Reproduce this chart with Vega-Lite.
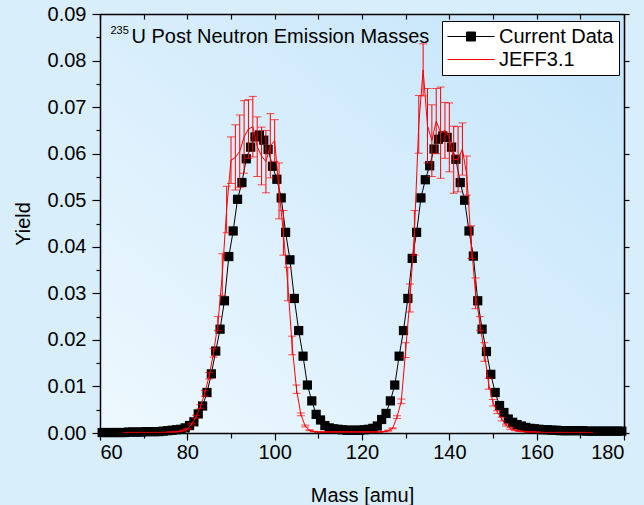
{
  "$schema": "https://vega.github.io/schema/vega-lite/v6.json",
  "width": 524,
  "height": 419,
  "autosize": {"type": "none"},
  "padding": {"left": 100, "top": 14, "right": 20, "bottom": 72},
  "background": "#d9eefb",
  "data": {"values": [
    {"m":60.5,"v":0.0001,"s":"Current Data"},{"m":61.5,"v":0.0001,"s":"Current Data"},{"m":62.5,"v":0.0001,"s":"Current Data"},{"m":63.5,"v":0.0001,"s":"Current Data"},{"m":64.5,"v":0.0001,"s":"Current Data"},{"m":65.5,"v":0.0001,"s":"Current Data"},{"m":66.5,"v":0.0002,"s":"Current Data"},{"m":67.5,"v":0.0002,"s":"Current Data"},{"m":68.5,"v":0.0002,"s":"Current Data"},{"m":69.5,"v":0.0002,"s":"Current Data"},{"m":70.5,"v":0.0003,"s":"Current Data"},{"m":71.5,"v":0.0003,"s":"Current Data"},{"m":72.5,"v":0.0003,"s":"Current Data"},{"m":73.5,"v":0.0003,"s":"Current Data"},{"m":74.5,"v":0.0004,"s":"Current Data"},{"m":75.5,"v":0.0005,"s":"Current Data"},{"m":76.5,"v":0.0006,"s":"Current Data"},{"m":77.5,"v":0.0007,"s":"Current Data"},{"m":78.5,"v":0.0008,"s":"Current Data"},{"m":79.5,"v":0.0011,"s":"Current Data"},
    {"m":80.5,"v":0.0016,"s":"Current Data"},{"m":81.5,"v":0.0024,"s":"Current Data"},{"m":82.5,"v":0.0041,"s":"Current Data"},{"m":83.5,"v":0.0058,"s":"Current Data"},{"m":84.5,"v":0.0087,"s":"Current Data"},{"m":85.5,"v":0.0127,"s":"Current Data"},{"m":86.5,"v":0.0176,"s":"Current Data"},{"m":87.5,"v":0.0223,"s":"Current Data"},{"m":88.5,"v":0.0284,"s":"Current Data"},{"m":89.5,"v":0.0379,"s":"Current Data"},
    {"m":90.5,"v":0.0434,"s":"Current Data"},{"m":91.5,"v":0.0502,"s":"Current Data"},{"m":92.5,"v":0.0538,"s":"Current Data"},{"m":93.5,"v":0.0589,"s":"Current Data"},{"m":94.5,"v":0.0614,"s":"Current Data"},{"m":95.5,"v":0.0636,"s":"Current Data"},{"m":96.5,"v":0.0640,"s":"Current Data"},{"m":97.5,"v":0.0629,"s":"Current Data"},{"m":98.5,"v":0.0609,"s":"Current Data"},{"m":99.5,"v":0.0573,"s":"Current Data"},
    {"m":100.5,"v":0.0545,"s":"Current Data"},{"m":101.5,"v":0.0505,"s":"Current Data"},{"m":102.5,"v":0.0431,"s":"Current Data"},{"m":103.5,"v":0.0372,"s":"Current Data"},{"m":104.5,"v":0.0289,"s":"Current Data"},{"m":105.5,"v":0.0220,"s":"Current Data"},{"m":106.5,"v":0.0165,"s":"Current Data"},{"m":107.5,"v":0.0103,"s":"Current Data"},{"m":108.5,"v":0.0069,"s":"Current Data"},{"m":109.5,"v":0.0040,"s":"Current Data"},
    {"m":110.5,"v":0.0028,"s":"Current Data"},{"m":111.5,"v":0.0016,"s":"Current Data"},{"m":112.5,"v":0.0011,"s":"Current Data"},{"m":113.5,"v":0.0009,"s":"Current Data"},{"m":114.5,"v":0.0008,"s":"Current Data"},{"m":115.5,"v":0.0007,"s":"Current Data"},{"m":116.5,"v":0.0006,"s":"Current Data"},{"m":117.5,"v":0.0006,"s":"Current Data"},{"m":118.5,"v":0.0006,"s":"Current Data"},{"m":119.5,"v":0.0006,"s":"Current Data"},
    {"m":120.5,"v":0.0007,"s":"Current Data"},{"m":121.5,"v":0.0008,"s":"Current Data"},{"m":122.5,"v":0.0010,"s":"Current Data"},{"m":123.5,"v":0.0015,"s":"Current Data"},{"m":124.5,"v":0.0029,"s":"Current Data"},{"m":125.5,"v":0.0042,"s":"Current Data"},{"m":126.5,"v":0.0069,"s":"Current Data"},{"m":127.5,"v":0.0103,"s":"Current Data"},{"m":128.5,"v":0.0165,"s":"Current Data"},{"m":129.5,"v":0.0220,"s":"Current Data"},
    {"m":130.5,"v":0.0289,"s":"Current Data"},{"m":131.5,"v":0.0375,"s":"Current Data"},{"m":132.5,"v":0.0431,"s":"Current Data"},{"m":133.5,"v":0.0505,"s":"Current Data"},{"m":134.5,"v":0.0544,"s":"Current Data"},{"m":135.5,"v":0.0574,"s":"Current Data"},{"m":136.5,"v":0.0610,"s":"Current Data"},{"m":137.5,"v":0.0631,"s":"Current Data"},{"m":138.5,"v":0.0638,"s":"Current Data"},{"m":139.5,"v":0.0635,"s":"Current Data"},
    {"m":140.5,"v":0.0614,"s":"Current Data"},{"m":141.5,"v":0.0588,"s":"Current Data"},{"m":142.5,"v":0.0538,"s":"Current Data"},{"m":143.5,"v":0.0500,"s":"Current Data"},{"m":144.5,"v":0.0434,"s":"Current Data"},{"m":145.5,"v":0.0380,"s":"Current Data"},{"m":146.5,"v":0.0284,"s":"Current Data"},{"m":147.5,"v":0.0223,"s":"Current Data"},{"m":148.5,"v":0.0175,"s":"Current Data"},{"m":149.5,"v":0.0126,"s":"Current Data"},
    {"m":150.5,"v":0.0087,"s":"Current Data"},{"m":151.5,"v":0.0059,"s":"Current Data"},{"m":152.5,"v":0.0044,"s":"Current Data"},{"m":153.5,"v":0.0030,"s":"Current Data"},{"m":154.5,"v":0.0023,"s":"Current Data"},{"m":155.5,"v":0.0018,"s":"Current Data"},{"m":156.5,"v":0.0015,"s":"Current Data"},{"m":157.5,"v":0.0012,"s":"Current Data"},{"m":158.5,"v":0.0010,"s":"Current Data"},{"m":159.5,"v":0.0009,"s":"Current Data"},
    {"m":160.5,"v":0.0008,"s":"Current Data"},{"m":161.5,"v":0.0007,"s":"Current Data"},{"m":162.5,"v":0.0007,"s":"Current Data"},{"m":163.5,"v":0.0006,"s":"Current Data"},{"m":164.5,"v":0.0006,"s":"Current Data"},{"m":165.5,"v":0.0005,"s":"Current Data"},{"m":166.5,"v":0.0005,"s":"Current Data"},{"m":167.5,"v":0.0005,"s":"Current Data"},{"m":168.5,"v":0.0005,"s":"Current Data"},{"m":169.5,"v":0.0005,"s":"Current Data"},
    {"m":170.5,"v":0.0005,"s":"Current Data"},{"m":171.5,"v":0.0004,"s":"Current Data"},{"m":172.5,"v":0.0004,"s":"Current Data"},{"m":173.5,"v":0.0004,"s":"Current Data"},{"m":174.5,"v":0.0004,"s":"Current Data"},{"m":175.5,"v":0.0004,"s":"Current Data"},{"m":176.5,"v":0.0004,"s":"Current Data"},{"m":177.5,"v":0.0004,"s":"Current Data"},{"m":178.5,"v":0.0004,"s":"Current Data"},{"m":179.5,"v":0.0004,"s":"Current Data"},
    {"m":66,"v":0.0001,"e":0.00003,"s":"JEFF3.1"},{"m":67,"v":0.0001,"e":0.00003,"s":"JEFF3.1"},{"m":68,"v":0.0001,"e":0.00003,"s":"JEFF3.1"},{"m":69,"v":0.0001,"e":0.00003,"s":"JEFF3.1"},{"m":70,"v":0.0001,"e":0.00003,"s":"JEFF3.1"},{"m":71,"v":0.0001,"e":0.00003,"s":"JEFF3.1"},{"m":72,"v":0.0001,"e":0.00003,"s":"JEFF3.1"},{"m":73,"v":0.0001,"e":0.00003,"s":"JEFF3.1"},{"m":74,"v":0.0001,"e":0.00003,"s":"JEFF3.1"},{"m":75,"v":0.0001,"e":0.00003,"s":"JEFF3.1"},{"m":76,"v":0.0002,"e":0.00004,"s":"JEFF3.1"},{"m":77,"v":0.0002,"e":0.00004,"s":"JEFF3.1"},{"m":78,"v":0.0003,"e":0.00005,"s":"JEFF3.1"},{"m":79,"v":0.0005,"e":0.0001,"s":"JEFF3.1"},
    {"m":80,"v":0.0009,"e":0.0001,"s":"JEFF3.1"},{"m":81,"v":0.0019,"e":0.0002,"s":"JEFF3.1"},{"m":82,"v":0.0035,"e":0.0003,"s":"JEFF3.1"},{"m":83,"v":0.0057,"e":0.0004,"s":"JEFF3.1"},{"m":84,"v":0.0085,"e":0.0006,"s":"JEFF3.1"},{"m":85,"v":0.0123,"e":0.0007,"s":"JEFF3.1"},{"m":86,"v":0.0172,"e":0.0009,"s":"JEFF3.1"},{"m":87,"v":0.0235,"e":0.0015,"s":"JEFF3.1"},{"m":88,"v":0.0340,"e":0.0045,"s":"JEFF3.1"},{"m":89,"v":0.0480,"e":0.0050,"s":"JEFF3.1"},
    {"m":90,"v":0.0586,"e":0.0050,"s":"JEFF3.1"},{"m":91,"v":0.0592,"e":0.0070,"s":"JEFF3.1"},{"m":92,"v":0.0605,"e":0.0078,"s":"JEFF3.1"},{"m":93,"v":0.0636,"e":0.0078,"s":"JEFF3.1"},{"m":94,"v":0.0653,"e":0.0063,"s":"JEFF3.1"},{"m":95,"v":0.0658,"e":0.0065,"s":"JEFF3.1"},{"m":96,"v":0.0615,"e":0.0064,"s":"JEFF3.1"},{"m":97,"v":0.0595,"e":0.0062,"s":"JEFF3.1"},{"m":98,"v":0.0583,"e":0.0067,"s":"JEFF3.1"},{"m":99,"v":0.0617,"e":0.0069,"s":"JEFF3.1"},
    {"m":100,"v":0.0628,"e":0.0045,"s":"JEFF3.1"},{"m":101,"v":0.0520,"e":0.0060,"s":"JEFF3.1"},{"m":102,"v":0.0430,"e":0.0048,"s":"JEFF3.1"},{"m":103,"v":0.0320,"e":0.0036,"s":"JEFF3.1"},{"m":104,"v":0.0188,"e":0.0020,"s":"JEFF3.1"},{"m":105,"v":0.0094,"e":0.0009,"s":"JEFF3.1"},{"m":106,"v":0.0040,"e":0.0003,"s":"JEFF3.1"},{"m":107,"v":0.0015,"e":0.0002,"s":"JEFF3.1"},{"m":108,"v":0.0006,"e":0.0001,"s":"JEFF3.1"},{"m":109,"v":0.0003,"e":0.00005,"s":"JEFF3.1"},
    {"m":110,"v":0.0002,"e":0.00004,"s":"JEFF3.1"},{"m":111,"v":0.0002,"e":0.00004,"s":"JEFF3.1"},{"m":112,"v":0.0002,"e":0.00004,"s":"JEFF3.1"},{"m":113,"v":0.0002,"e":0.00004,"s":"JEFF3.1"},{"m":114,"v":0.0002,"e":0.00004,"s":"JEFF3.1"},{"m":115,"v":0.0002,"e":0.00004,"s":"JEFF3.1"},{"m":116,"v":0.0002,"e":0.00004,"s":"JEFF3.1"},{"m":117,"v":0.0002,"e":0.00004,"s":"JEFF3.1"},{"m":118,"v":0.0002,"e":0.00004,"s":"JEFF3.1"},{"m":119,"v":0.0002,"e":0.00004,"s":"JEFF3.1"},
    {"m":120,"v":0.0002,"e":0.00004,"s":"JEFF3.1"},{"m":121,"v":0.0002,"e":0.00004,"s":"JEFF3.1"},{"m":122,"v":0.0002,"e":0.00004,"s":"JEFF3.1"},{"m":123,"v":0.0002,"e":0.00004,"s":"JEFF3.1"},{"m":124,"v":0.0002,"e":0.00004,"s":"JEFF3.1"},{"m":125,"v":0.0003,"e":0.00005,"s":"JEFF3.1"},{"m":126,"v":0.0005,"e":0.0001,"s":"JEFF3.1"},{"m":127,"v":0.0010,"e":0.0001,"s":"JEFF3.1"},{"m":128,"v":0.0034,"e":0.0003,"s":"JEFF3.1"},{"m":129,"v":0.0068,"e":0.0005,"s":"JEFF3.1"},
    {"m":130,"v":0.0178,"e":0.0016,"s":"JEFF3.1"},{"m":131,"v":0.0290,"e":0.0030,"s":"JEFF3.1"},{"m":132,"v":0.0430,"e":0.0048,"s":"JEFF3.1"},{"m":133,"v":0.0663,"e":0.0062,"s":"JEFF3.1"},{"m":134,"v":0.0780,"e":0.0056,"s":"JEFF3.1"},{"m":135,"v":0.0660,"e":0.0080,"s":"JEFF3.1"},{"m":136,"v":0.0628,"e":0.0077,"s":"JEFF3.1"},{"m":137,"v":0.0670,"e":0.0070,"s":"JEFF3.1"},{"m":138,"v":0.0645,"e":0.0098,"s":"JEFF3.1"},{"m":139,"v":0.0650,"e":0.0060,"s":"JEFF3.1"},
    {"m":140,"v":0.0635,"e":0.0074,"s":"JEFF3.1"},{"m":141,"v":0.0587,"e":0.0072,"s":"JEFF3.1"},{"m":142,"v":0.0588,"e":0.0070,"s":"JEFF3.1"},{"m":143,"v":0.0610,"e":0.0056,"s":"JEFF3.1"},{"m":144,"v":0.0553,"e":0.0042,"s":"JEFF3.1"},{"m":145,"v":0.0410,"e":0.0035,"s":"JEFF3.1"},{"m":146,"v":0.0300,"e":0.0033,"s":"JEFF3.1"},{"m":147,"v":0.0235,"e":0.0015,"s":"JEFF3.1"},{"m":148,"v":0.0174,"e":0.0020,"s":"JEFF3.1"},{"m":149,"v":0.0106,"e":0.0012,"s":"JEFF3.1"},
    {"m":150,"v":0.0065,"e":0.0007,"s":"JEFF3.1"},{"m":151,"v":0.0045,"e":0.0003,"s":"JEFF3.1"},{"m":152,"v":0.0030,"e":0.0004,"s":"JEFF3.1"},{"m":153,"v":0.0017,"e":0.0002,"s":"JEFF3.1"},{"m":154,"v":0.0010,"e":0.0002,"s":"JEFF3.1"},{"m":155,"v":0.0006,"e":0.0001,"s":"JEFF3.1"},{"m":156,"v":0.0004,"e":0.00008,"s":"JEFF3.1"},{"m":157,"v":0.0003,"e":0.00006,"s":"JEFF3.1"},{"m":158,"v":0.0002,"e":0.00004,"s":"JEFF3.1"},{"m":159,"v":0.0002,"e":0.00004,"s":"JEFF3.1"},
    {"m":160,"v":0.0002,"e":0.00004,"s":"JEFF3.1"},{"m":161,"v":0.0001,"e":0.00003,"s":"JEFF3.1"},{"m":162,"v":0.0001,"e":0.00003,"s":"JEFF3.1"},{"m":163,"v":0.0001,"e":0.00003,"s":"JEFF3.1"},{"m":164,"v":0.0001,"e":0.00003,"s":"JEFF3.1"},{"m":165,"v":0.0001,"e":0.00003,"s":"JEFF3.1"},{"m":166,"v":0.0001,"e":0.00003,"s":"JEFF3.1"},{"m":167,"v":0.0001,"e":0.00003,"s":"JEFF3.1"},{"m":168,"v":0.0001,"e":0.00003,"s":"JEFF3.1"},{"m":169,"v":0.0001,"e":0.00003,"s":"JEFF3.1"},{"m":170,"v":0.0001,"e":0.00003,"s":"JEFF3.1"},{"m":171,"v":0.0001,"e":0.00003,"s":"JEFF3.1"},{"m":172,"v":0.0001,"e":0.00003,"s":"JEFF3.1"}
  ]},
  "resolve": {"axis": {"x": "independent", "y": "independent"}},
  "layer": [
    {
      "transform": [{"filter": "datum.s === 'Current Data'"}],
      "mark": {"type": "line", "strokeWidth": 1},
      "encoding": {
        "x": {"field": "m", "type": "quantitative", "scale": {"domain": [60, 180], "nice": false, "zero": false},
              "axis": {"orient": "bottom", "values": [60, 80, 100, 120, 140, 160, 180], "title": "Mass [amu]", "tickSize": 7, "labelPadding": 2, "titlePadding": 23, "zindex": 1}},
        "y": {"field": "v", "type": "quantitative", "scale": {"domain": [0, 0.09], "nice": false, "zero": false},
              "axis": {"orient": "left", "values": [0, 0.01, 0.02, 0.03, 0.04, 0.05, 0.06, 0.07, 0.08, 0.09], "format": ".2f", "title": "Yield", "tickSize": 8, "labelPadding": 6, "titlePadding": 14, "zindex": 1}},
        "color": {"field": "s", "type": "nominal", "scale": {"domain": ["Current Data", "JEFF3.1"], "range": ["#000000", "#ff0000"]},
          "legend": {
            "orient": "none", "legendX": 342, "legendY": 7, "title": null,
            "fillColor": "white", "strokeColor": "black", "padding": 5, "rowPadding": 2,
            "symbolSize": 400, "symbolStrokeWidth": 1, "labelOffset": 31,
            "labelFont": "Liberation Sans", "labelFontSize": 20, "labelColor": "black", "labelLimit": 300,
            "encode": {"symbols": {"update": {
              "shape": {"signal": "datum.value === 'Current Data' ? 'M-1,0H3.7M0.9,-0.45H1.8V0.45H0.9Z' : 'M-1,0H3.7'"},
              "fill": {"signal": "datum.value === 'Current Data' ? 'black' : 'transparent'"},
              "stroke": {"signal": "datum.value === 'Current Data' ? 'black' : 'red'"},
              "strokeWidth": {"value": 1},
              "opacity": {"value": 1}
            }}}
          }}
      }
    },
    {
      "transform": [{"filter": "datum.s === 'Current Data'"}],
      "mark": {"type": "point", "shape": "square", "filled": true, "size": 85, "opacity": 1},
      "encoding": {
        "x": {"field": "m", "type": "quantitative", "scale": {"domain": [60, 180], "nice": false, "zero": false},
              "axis": {"orient": "top", "values": [60, 70, 80, 90, 100, 110, 120, 130, 140, 150, 160, 170, 180], "labels": false, "title": null, "tickSize": -5, "zindex": 1}},
        "y": {"field": "v", "type": "quantitative", "scale": {"domain": [0, 0.09], "nice": false, "zero": false},
              "axis": {"orient": "right", "values": [0, 0.01, 0.02, 0.03, 0.04, 0.05, 0.06, 0.07, 0.08, 0.09], "labels": false, "title": null, "tickSize": 5, "zindex": 1}},
        "color": {"field": "s", "type": "nominal", "scale": {"domain": ["Current Data", "JEFF3.1"], "range": ["#000000", "#ff0000"]}, "legend": null}
      }
    },
    {
      "transform": [{"filter": "datum.s === 'JEFF3.1'"}],
      "mark": {"type": "errorbar", "ticks": {"size": 8, "thickness": 1, "color": "#ff0000"}, "color": "#ff0000", "thickness": 1},
      "encoding": {
        "x": {"field": "m", "type": "quantitative", "scale": {"domain": [60, 180], "nice": false, "zero": false}, "axis": null},
        "y": {"field": "v", "type": "quantitative", "scale": {"domain": [0, 0.09], "nice": false, "zero": false}, "axis": null},
        "yError": {"field": "e"}
      }
    },
    {
      "transform": [{"filter": "datum.s === 'JEFF3.1'"}],
      "mark": {"type": "line", "strokeWidth": 1},
      "encoding": {
        "x": {"field": "m", "type": "quantitative", "scale": {"domain": [60, 180], "nice": false, "zero": false},
              "axis": {"orient": "bottom", "values": [70, 90, 110, 130, 150, 170], "labels": false, "title": null, "domain": false, "tickSize": 5}},
        "y": {"field": "v", "type": "quantitative", "scale": {"domain": [0, 0.09], "nice": false, "zero": false},
              "axis": {"orient": "left", "values": [0.005, 0.015, 0.025, 0.035, 0.045, 0.055, 0.065, 0.075, 0.085], "labels": false, "title": null, "domain": false, "tickSize": 4}},
        "color": {"field": "s", "type": "nominal", "scale": {"domain": ["Current Data", "JEFF3.1"], "range": ["#000000", "#ff0000"]}, "legend": null}
      }
    },
    {
      "data": {"values": [{}]},
      "mark": {"type": "text", "font": "Liberation Sans", "fontSize": 11, "align": "left", "baseline": "alphabetic", "color": "black"},
      "encoding": {
        "x": {"datum": 62.4, "type": "quantitative", "scale": {"domain": [60, 180], "nice": false, "zero": false}, "axis": null},
        "y": {"datum": 0.0858, "type": "quantitative", "scale": {"domain": [0, 0.09], "nice": false, "zero": false}, "axis": null},
        "text": {"value": "235"}
      }
    },
    {
      "data": {"values": [{}]},
      "mark": {"type": "text", "font": "Liberation Sans", "fontSize": 20, "align": "left", "baseline": "alphabetic", "color": "black"},
      "encoding": {
        "x": {"datum": 67.2, "type": "quantitative", "scale": {"domain": [60, 180], "nice": false, "zero": false}, "axis": null},
        "y": {"datum": 0.0837, "type": "quantitative", "scale": {"domain": [0, 0.09], "nice": false, "zero": false}, "axis": null},
        "text": {"value": "U Post Neutron Emission Masses"}
      }
    }
  ],
  "config": {
    "view": {"stroke": null, "fill": {"gradient": "linear", "x1": 0, "y1": 1, "x2": 1, "y2": 0, "stops": [{"offset": 0, "color": "#eef8fe"}, {"offset": 1, "color": "#c3e4fa"}]}},
    "axis": {"labelFont": "Liberation Sans", "titleFont": "Liberation Sans", "labelFontSize": 20, "titleFontSize": 20, "labelColor": "black", "titleColor": "black", "titleFontWeight": "normal", "tickColor": "black", "domainColor": "black", "domainWidth": 1.5, "tickWidth": 1.2, "grid": false}
  }
}
